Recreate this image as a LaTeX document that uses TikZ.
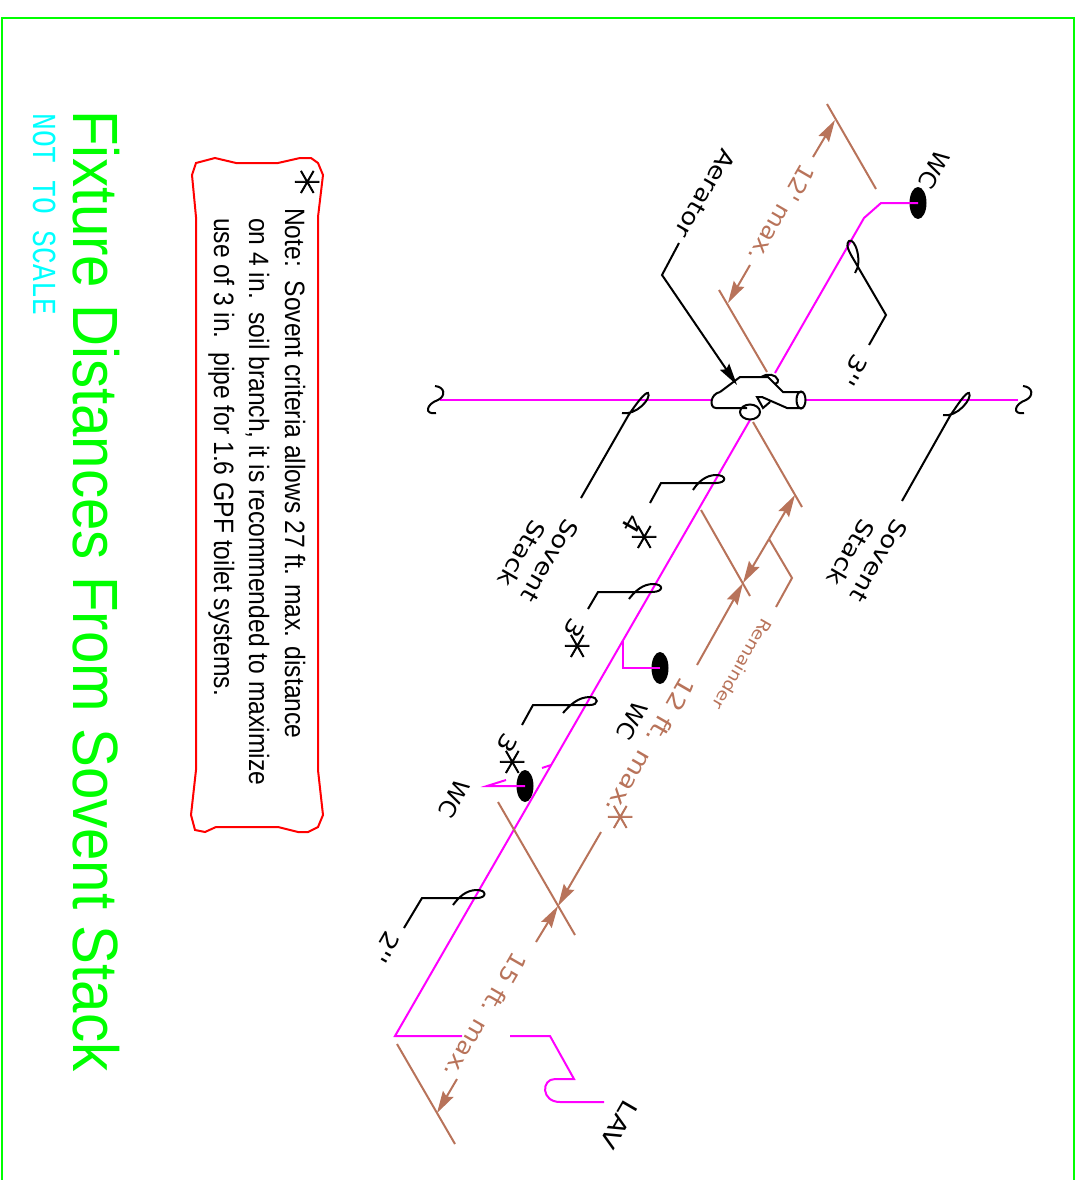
\documentclass[tikz,border=0pt]{standalone}
\usepackage{fontspec}
\setmainfont{Liberation Sans}
\newfontfamily\cadfont{DejaVu Sans}
\newfontfamily\scalefont{Liberation Mono}
\newfontfamily\starfont[FakeBold=1.5]{DejaVu Sans ExtraLight}
\usetikzlibrary{arrows.meta,shapes.geometric}
\definecolor{dimcolor}{rgb}{0.722, 0.451, 0.353}
\definecolor{pipecolor}{rgb}{1.000, 0.000, 1.000}
\definecolor{framecolor}{rgb}{0.000, 1.000, 0.000}
\definecolor{scalecolor}{rgb}{0.000, 1.000, 1.000}
\tikzset{
  pipeline/.style={draw=pipecolor,line width=2pt,line join=miter},
  leaderline/.style={draw=black,line width=2pt},
  dimline/.style={draw=dimcolor,line width=2pt},
  dimarrow/.style={dimline,-{Stealth[length=22pt,width=12pt,inset=3pt]}},
  wcoval/.style={draw=none,fill=black,shape=ellipse,minimum width=17pt,minimum height=32pt,inner sep=0pt},
  isolabel/.style={anchor=base west,inner sep=0pt,rotate=-120,xscale=1.2,font=\cadfont\fontsize{23}{30}\selectfont},
  starmark/.style={inner sep=0pt,rotate=-90,font=\starfont\fontsize{52}{52}\selectfont},
  noteline/.style={anchor=base west,inner sep=0pt,rotate=-90,xscale=0.88,font=\fontsize{28}{32}\selectfont}
}
\begin{document}
\begin{tikzpicture}[x=1pt,y=-1pt]
\useasboundingbox (0,0) rectangle (1082,1180);
% frame
\draw[framecolor,line width=2pt] (2,1180)--(2,18)--(1074,18)--(1074,1180);
% title
\node[anchor=base west,inner sep=0pt,rotate=-90,xscale=0.91,text=framecolor,font=\fontsize{64}{70}\selectfont] (title) at (73,110) {Fixture Distances From Sovent Stack};
\node[anchor=base west,inner sep=0pt,rotate=-90,yscale=1.2,text=scalecolor,font=\scalefont\fontsize{28}{30}\selectfont] (scale) at (33,113) {NOT TO SCALE};
% note box
\draw[red,line width=2pt] (196,163)--(215,158)--(236,163)--(278,163)--(300,158)--(311,158)--(318,163)--(323,175)--(318,217)--(318,770)--(323,815)--(318,827)--(308,832)--(298,832)--(278,827)--(216,827)--(205,832)--(195,830)--(191,815)--(196,770)--(196,217)--(192,175)--cycle;
\node[starmark] (notestar) at (305,182) {∗};
\node[noteline] (noteA) at (285,208) {Note:\ \ Sovent criteria allows 27 ft. max. distance};
\node[noteline] (noteB) at (249,218) {on 4 in.\ \ soil branch, it is recommended to maximize};
\node[noteline] (noteC) at (214,218) {use of 3 in.\ \ pipe for 1.6 GPF toilet systems.};
% water closets
\node[wcoval] (wcTop) at (918,203) {};
\node[wcoval] (wcMid) at (660,668) {};
\node[wcoval] (wcLow) at (525,786) {};
% pipes
\draw[pipeline] (440,400)--(712,400);
\draw[pipeline] (805,400)--(1018,400);
\draw[pipeline] (wcTop.center)--(881,203)--(864,218)--(775,373);
\draw[pipeline] (750,420)--(395,1036)--(462,1036);
\draw[pipeline] (510,1036)--(550,1036)--(574,1079)--(555,1079) .. controls (541,1079) and (541,1102) .. (560,1102)--(604,1102);
\draw[pipeline] (623,640)--(623,668)--(wcMid.center);
\draw[pipeline] (506,780)--(487,786)--(wcLow.center);
\draw[pipeline] (542,768)--(551,765);
% pipe breaks
\draw[leaderline] (435,386) .. controls (445,387) and (446,396) .. (438,400) .. controls (426,404) and (424,415) .. (436,413);
\draw[leaderline] (1023,386) .. controls (1033,387) and (1034,396) .. (1026,400) .. controls (1014,404) and (1012,415) .. (1024,413);
% aerator fitting
\draw[leaderline] (720,392) .. controls (710,394) and (709,408) .. (716,408)--(747,408);
\draw[leaderline] (720,392)--(740,377)--(768,377)--(783,392)--(802,392);
\draw[leaderline] (802,408)--(787,408)--(762,397)--(757,397)--(763,408)--(770,402);
\draw[leaderline] (801,400) ellipse (4.5 and 8.5);
\draw[leaderline] (750,412) ellipse (10 and 7.5);
\draw[leaderline] (761,377) .. controls (767,373) and (776,374) .. (778,380) .. controls (779,382) and (777,383) .. (775,384);
% leaders
\draw[leaderline,-{Stealth[length=22pt,width=11pt,inset=3pt]}] (679,243)--(662,275)--(737,385);
\draw[leaderline] (869,345)--(886,315)--(858,267) .. controls (852,256) and (844,246) .. (849,241) .. controls (855,237) and (863,262) .. (855,273);
\draw[leaderline] (581,498)--(628,416) .. controls (636,404) and (645,392) .. (648,393) .. controls (652,398) and (636,416) .. (622,413);
\draw[leaderline] (902,501)--(950,416) .. controls (958,404) and (966,392) .. (969,393) .. controls (973,398) and (957,418) .. (943,415);
\draw[leaderline] (650,503)--(661,483)--(716,483) .. controls (727,483) and (727,475) .. (716,475) .. controls (706,475) and (698,482) .. (693,490);
\draw[leaderline] (588,609)--(598,592)--(652,592) .. controls (664,592) and (664,584) .. (653,584) .. controls (643,584) and (635,591) .. (629,599);
\draw[leaderline] (522,725)--(533,705)--(590,705) .. controls (599,705) and (599,697) .. (590,697) .. controls (578,697) and (570,705) .. (563,713);
\draw[leaderline] (404,928)--(422,898)--(477,898) .. controls (487,898) and (487,890) .. (477,890) .. controls (466,890) and (459,897) .. (453,905);
% dimension lines
\draw[dimline] (827,104)--(876,189);
\draw[dimline] (719,290)--(767,372);
\draw[dimline] (753,422)--(802,507);
\draw[dimline] (701,510)--(750,596);
\draw[dimline] (498,802)--(575,935);
\draw[dimline] (397,1044)--(455,1144);
\draw[dimarrow] (813,157)--(835,120);
\draw[dimarrow] (750,265)--(728,303);
\draw[dimarrow] (769,539)--(795,495);
\draw[dimarrow] (769,539)--(743,583);
\draw[dimarrow] (697,665)--(743,583);
\draw[dimarrow] (601,832)--(558,906);
\draw[dimarrow] (536,942)--(558,906);
\draw[dimarrow] (457,1079)--(437,1113);
\draw[dimline] (769,539)--(792,578)--(776,607);
% dimension labels
\node[isolabel,text=dimcolor,xscale=0.9] (dimTop) at (802,162) {12' max.};
\node[isolabel,text=dimcolor] (dimMid) at (682,675) {12 ft. max.};
\node[starmark,text=dimcolor] (dimStar) at (618,817) {∗};
\node[isolabel,text=dimcolor,xscale=0.92] (dimLow) at (514,950) {15 ft. max.};
\node[isolabel,text=dimcolor,xscale=0.95,font=\cadfont\fontsize{16.5}{22}\selectfont] (remainder) at (763,617) {Remainder};
% labels
\node[isolabel,xscale=0.95] (aerator) at (723,147) {Aerator};
\node[isolabel,xscale=0.85] (wcTopText) at (937,148) {WC};
\node[isolabel,xscale=0.85] (wcMidText) at (635,699) {WC};
\node[isolabel,xscale=0.85] (wcLowText) at (457,777) {WC};
\node[isolabel] (lavText) at (625,1098) {LAV};
\node[isolabel,xscale=0.95] (soventA) at (566,517) {Sovent};
\node[isolabel,xscale=0.95] (stackA) at (533,518) {Stack};
\node[isolabel,xscale=0.95] (soventB) at (895,517) {Sovent};
\node[isolabel,xscale=0.95] (stackB) at (862,517) {Stack};
\node[isolabel] (sizeTop) at (855,352) {3''};
\node[isolabel] (sizeFour) at (630,512) {4};
\node[starmark] (starFour) at (642,537) {∗};
\node[isolabel] (sizeThree) at (572,616) {3};
\node[starmark] (starThree) at (575,646) {∗};
\node[isolabel] (sizeThreeLow) at (505,731) {3};
\node[starmark] (starThreeLow) at (510,762) {∗};
\node[isolabel] (sizeTwo) at (387,929) {2''};
\end{tikzpicture}
\end{document}
